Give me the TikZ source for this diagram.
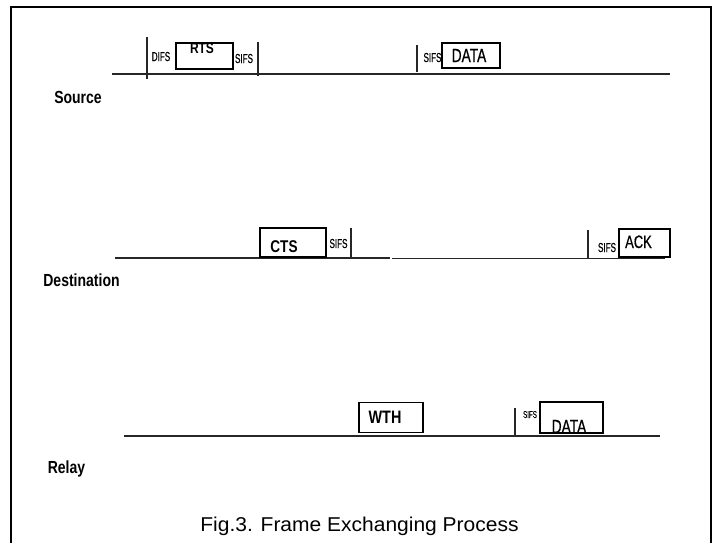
\documentclass[tikz,border=0pt]{standalone}
\usepackage{fontspec}
\setmainfont{Liberation Sans}
\newfontfamily\narrowf[FakeStretch=0.72,FakeBold=0.6]{Liberation Sans}
\newfontfamily\condf[FakeStretch=0.8]{Liberation Sans}
\newfontfamily\smallf[FakeStretch=0.62,FakeBold=0.5]{Liberation Sans}
\newfontfamily\widef[FakeStretch=1.05]{Liberation Sans}
\begin{document}
\begin{tikzpicture}[x=1pt,y=-1pt,
  lbl/.style={anchor=base, inner sep=0pt, font=\condf\bfseries\fontsize{17.5}{19}\selectfont},
  boxtxt/.style={anchor=base, inner sep=0pt, font=\condf\bfseries\fontsize{15}{17}\selectfont},
  bigtxt/.style={anchor=base, inner sep=0pt, font=\narrowf\fontsize{19}{21}\selectfont},
  tiny/.style={anchor=base, inner sep=0pt, font=\smallf\fontsize{13}{14}\selectfont},
  frame/.style={draw, line width=1.1pt, inner sep=0pt},
  axis/.style={line width=1.3pt, draw=black!85},
  tick/.style={line width=1.1pt, draw=black!85}]
\useasboundingbox (0,0) rectangle (717,542);
% outer frame
\draw[line width=2pt] (11,543) -- (11,7) -- (711,7) -- (711,543);

% ---------------- Source ----------------
\coordinate (sa) at (112,74);
\coordinate (sb) at (670,74);
\draw[axis] (sa) -- (sb);
\draw[tick] (147,37) -- (147,79);
\draw[tick] (258,42) -- (258,76);
\draw[tick] (417,45) -- (417,72);
\node[frame, minimum width=57pt, minimum height=26pt] (rts) at (204.5,56) {};
\node[boxtxt] (rtst) at (202,53) {RTS};
\node[tiny] (difs) at (161,61) {DIFS};
\node[tiny] (sifs1) at (244,63) {SIFS};
\node[tiny] (sifs2) at (432.5,62) {SIFS};
\node[frame, minimum width=58pt, minimum height=25pt] (data1) at (471,55.5) {};
\node[bigtxt] (data1t) at (469,62) {DATA};
\node[lbl] (src) at (78,103) {Source};

% ---------------- Destination ----------------
\coordinate (da) at (115,258);
\coordinate (db) at (390,258);
\coordinate (dc) at (392,258.5);
\coordinate (dd) at (665,258.5);
\draw[axis] (da) -- (db);
\draw[axis] (dc) -- (dd);
\node[frame, minimum width=66pt, minimum height=29pt] (cts) at (293,242.5) {};
\node[boxtxt, font=\condf\bfseries\fontsize{17}{19}\selectfont] (ctst) at (284,252) {CTS};
\node[tiny] (sifs3) at (338.5,248) {SIFS};
\draw[tick] (351,228) -- (351,258);
\draw[tick] (588,230) -- (588,258);
\node[tiny] (sifs4) at (607,252) {SIFS};
\node[frame, minimum width=51pt, minimum height=28pt] (ack) at (644.5,243) {};
\node[bigtxt, font=\narrowf\fontsize{18}{20}\selectfont] (ackt) at (638.5,248) {ACK};
\node[lbl] (dst) at (81.5,286) {Destination};

% ---------------- Relay ----------------
\coordinate (ra) at (124,436);
\coordinate (rb) at (660,436);
\draw[axis] (ra) -- (rb);
\node[frame, minimum width=64pt, minimum height=30pt] (wth) at (391,417.5) {};
\node[boxtxt, font=\condf\bfseries\fontsize{18}{20}\selectfont] (wtht) at (385,423) {WTH};
\draw[tick] (515,408) -- (515,436);
\node[tiny, font=\smallf\fontsize{10}{11}\selectfont] (sifs5) at (530,418) {SIFS};
\node[frame, minimum width=63pt, minimum height=31pt] (data2) at (571.5,417.5) {};
\node[bigtxt] (data2t) at (569,433) {DATA};
\node[lbl] (rly) at (66.5,473) {Relay};

% ---------------- Caption ----------------
\node[anchor=base, inner sep=0pt, font=\widef\fontsize{20}{22}\selectfont] (cap) at (359.5,531) {Fig.3. Frame Exchanging Process};
\end{tikzpicture}
\end{document}
